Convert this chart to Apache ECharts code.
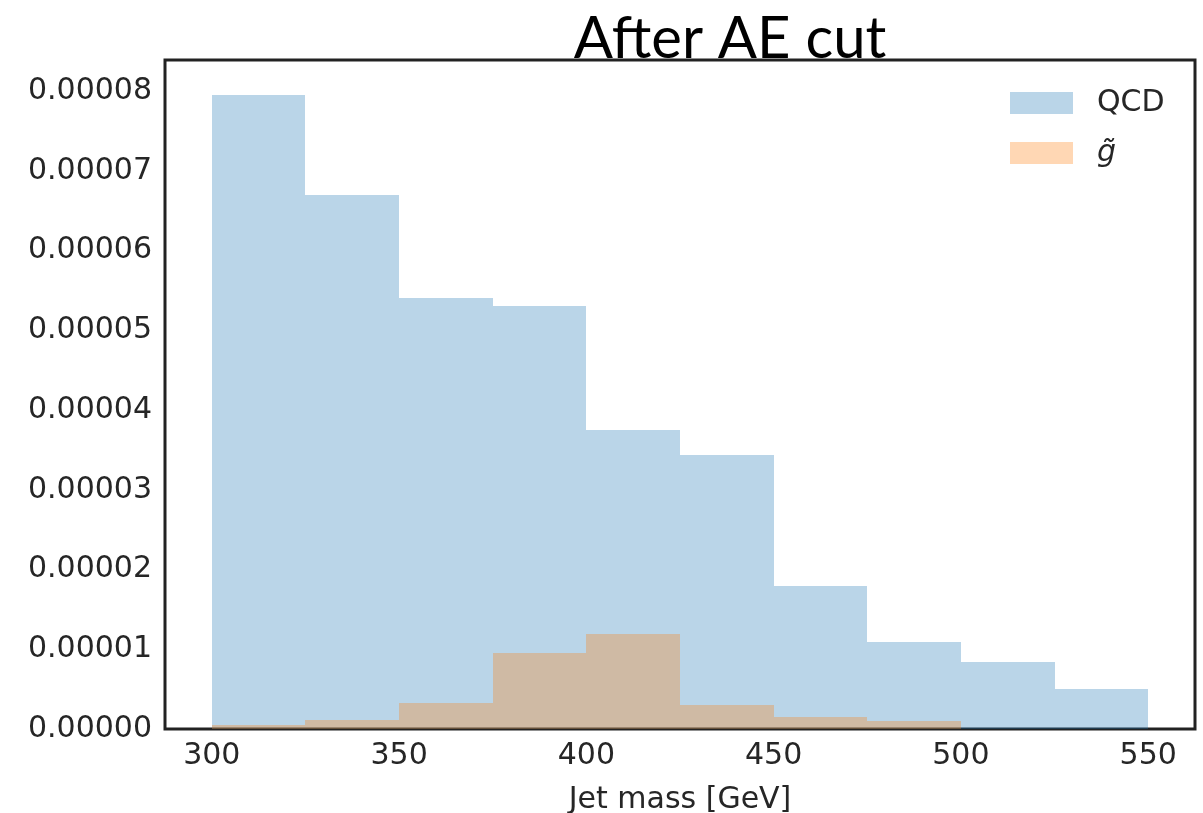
<!DOCTYPE html>
<html>
<head>
<meta charset="utf-8">
<script src="https://cdn.jsdelivr.net/npm/echarts@6/dist/echarts.min.js"></script>
<style>
html,body{margin:0;padding:0;background:#fff;overflow:hidden;}
#chart{width:1203px;height:813px;}
</style>
</head>
<body>
<div id="chart"></div>
<script>
// Histogram bin edges (GeV)
const binEdges = [300, 325, 350, 375, 400, 425, 450, 475, 500, 525, 550];
// Normalised densities per bin
const qcdValues = [7.95e-5, 6.70e-5, 5.40e-5, 5.30e-5, 3.75e-5, 3.44e-5, 1.79e-5, 1.09e-5, 0.84e-5, 0.50e-5];
const gluinoValues = [0.05e-5, 0.11e-5, 0.33e-5, 0.95e-5, 1.19e-5, 0.30e-5, 0.15e-5, 0.10e-5, 0, 0];
const xTicks = [300, 350, 400, 450, 500, 550];
const yTicks = [0, 0.00001, 0.00002, 0.00003, 0.00004, 0.00005, 0.00006, 0.00007, 0.00008];
const seriesNames = ['QCD', 'g\u0303'];

function histData(values) {
  return values.map((v, i) => [binEdges[i], binEdges[i + 1], v]);
}

function renderBar(params, api) {
  const x0 = api.value(0), x1 = api.value(1), v = api.value(2);
  const p0 = api.coord([x0, 0]);
  const p1 = api.coord([x1, v]);
  const xa = Math.round(p0[0]), xb = Math.round(p1[0]);
  const ya = Math.round(p1[1]), yb = Math.round(p0[1]);
  const shape = echarts.graphic.clipRectByRect({
    x: xa, y: ya, width: xb - xa, height: yb - ya
  }, {
    x: params.coordSys.x, y: params.coordSys.y,
    width: params.coordSys.width, height: params.coordSys.height
  });
  return shape && {
    type: 'rect',
    shape: shape,
    style: { fill: api.visual('color') }
  };
}

const chart = echarts.init(document.getElementById('chart'), null, { renderer: 'canvas' });
const labelFont = { fontFamily: 'DejaVu Sans', fontSize: 30, color: '#262626' };

chart.setOption({
  animation: false,
  backgroundColor: '#ffffff',
  title: {
    text: 'After AE cut',
    left: 725,
    top: 5,
    textAlign: 'center',
    textStyle: { fontFamily: 'Lato', fontWeight: 'normal', fontSize: 58, color: '#000' }
  },
  legend: {
    data: seriesNames,
    orient: 'vertical',
    left: 1005,
    top: 83,
    itemWidth: 63,
    itemHeight: 22,
    itemGap: 20,
    icon: 'rect',
    formatter: function (name) { return name === 'QCD' ? '{sp|}QCD' : '{sp|}{it|' + name + '}'; },
    textStyle: {
      fontFamily: 'DejaVu Sans', fontSize: 30, color: '#262626',
      rich: {
        sp: { width: 19 },
        it: { fontFamily: 'DejaVu Sans', fontStyle: 'italic', fontSize: 30, color: '#262626' }
      }
    }
  },
  grid: {
    left: 165, right: 8, top: 60, bottom: 84,
    outerBoundsMode: 'none',
    show: true, borderColor: '#222222', borderWidth: 3, backgroundColor: 'transparent',
    containLabel: false
  },
  xAxis: {
    type: 'value',
    min: 287.5,
    max: 562.5,
    name: 'Jet mass [GeV]',
    nameLocation: 'middle',
    nameGap: 56,
    nameTextStyle: labelFont,
    axisLine: { show: false },
    axisTick: { show: false },
    splitLine: { show: false },
    axisLabel: Object.assign({ customValues: xTicks, margin: 12 }, labelFont)
  },
  yAxis: {
    type: 'value',
    min: 0,
    max: 0.0000839,
    axisLine: { show: false },
    axisTick: { show: false },
    splitLine: { show: false },
    axisLabel: Object.assign({
      customValues: yTicks, margin: 13,
      formatter: function (v) { return v.toFixed(5); }
    }, labelFont)
  },
  series: [
    {
      name: seriesNames[0],
      type: 'custom',
      renderItem: renderBar,
      itemStyle: { color: 'rgba(31,119,180,0.31)' },
      encode: { x: [0, 1], y: 2 },
      data: histData(qcdValues),
      z: 2
    },
    {
      name: seriesNames[1],
      type: 'custom',
      renderItem: renderBar,
      itemStyle: { color: 'rgba(255,127,14,0.31)' },
      encode: { x: [0, 1], y: 2 },
      data: histData(gluinoValues),
      z: 3
    }
  ]
});
</script>
</body>
</html>
